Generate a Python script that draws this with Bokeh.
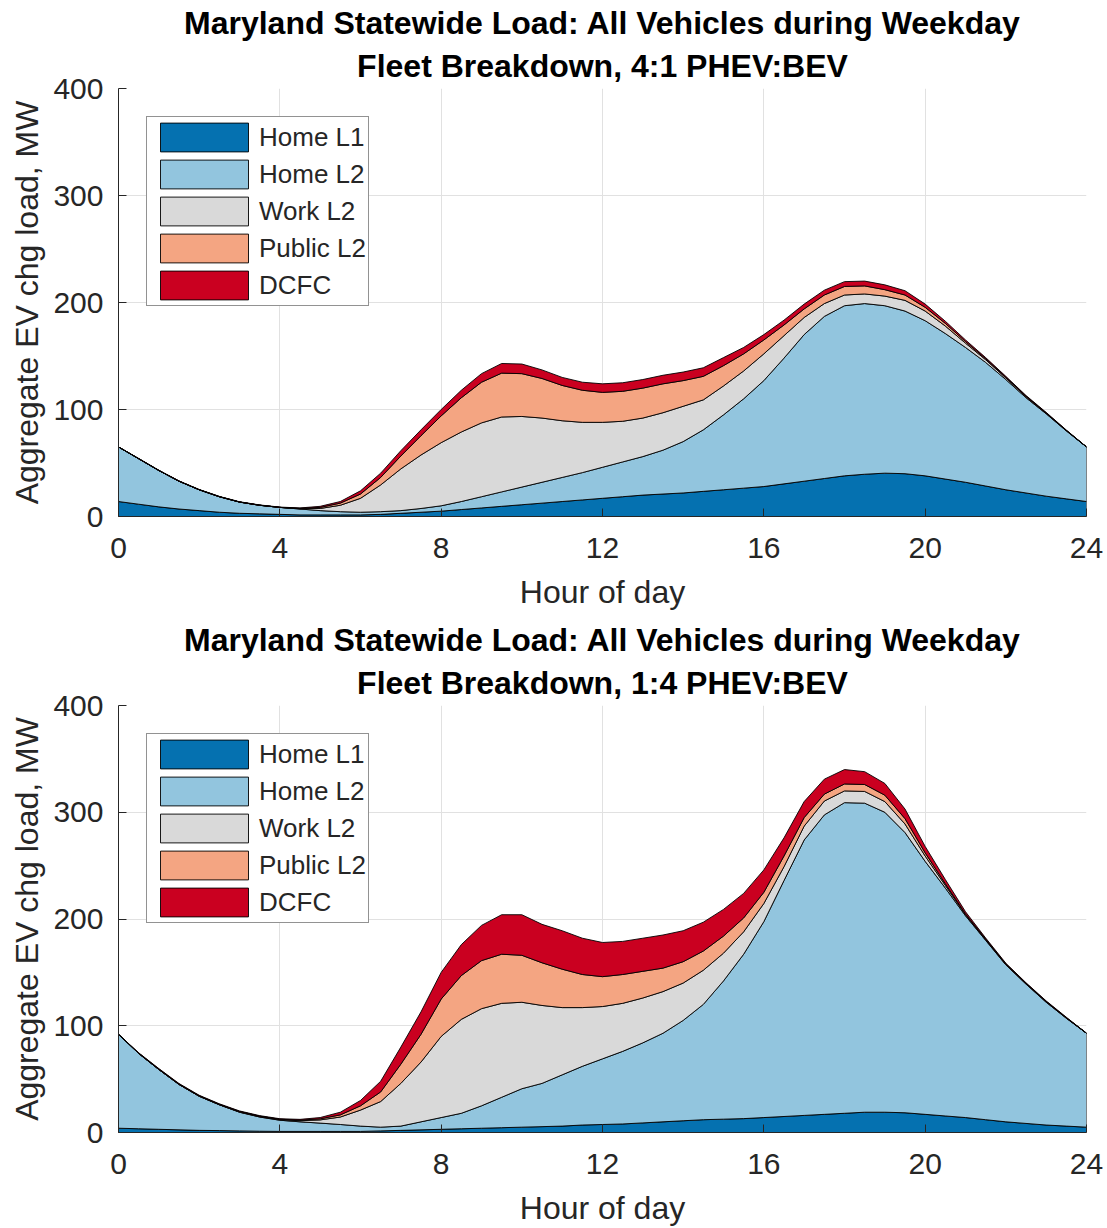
import numpy as np
from bokeh.plotting import figure
from bokeh.layouts import column
from bokeh.models import Title, Range1d, FixedTicker
from bokeh.embed import file_html
from bokeh.resources import INLINE

FONT = "Liberation Sans"
INK = "#262626"

# half-hourly samples over the day
hours = np.arange(0, 24.5, 0.5)
x_ticks = [0, 4, 8, 12, 16, 20, 24]
y_ticks = [0, 100, 200, 300, 400]

series_names = ["Home L1", "Home L2", "Work L2", "Public L2", "DCFC"]
series_colors = ["#0571b0", "#92c5de", "#d9d9d9", "#f4a582", "#ca0020"]

main_title = "Maryland Statewide Load: All Vehicles during Weekday"

# Fleet 4:1 PHEV:BEV, charging load (MW)
phev_home_l1 = [14, 11.5, 9, 7, 5.5, 4, 3, 2.5, 2, 1.5, 1.5, 1.5, 1.5, 2, 3, 4, 5,
                6.5, 8, 9.5, 11, 12.5, 14, 15.5, 17, 18.5, 20, 21, 22, 23.5, 25, 26.5,
                28, 30.5, 33, 35.5, 38, 39.5, 40.5, 40, 38, 35, 32, 28.5, 25, 22, 19, 16.5, 14]
phev_home_l2 = [51, 42.5, 34, 26, 19.5, 14.5, 10.5, 8, 6.5, 5.5, 4, 3, 2.5, 2.5, 2.5, 3.5, 5,
                7.5, 10.5, 13.5, 16.5, 19.5, 22.5, 25.5, 29, 32.5, 36, 41, 48, 57.5, 70, 83.5,
                99, 117.5, 137, 151.5, 159, 159.5, 156.5, 152, 145, 136, 126, 115.5, 103, 89, 77, 63.5, 51]
phev_work_l2 = [0, 0, 0, 0, 0, 0, 0, 0, 0, 0.3, 2, 6, 13, 25, 39, 50, 59,
                65, 69, 70, 66, 60, 53, 47, 42, 38, 36, 35, 33, 28, 27, 26,
                25, 21, 16, 12, 10, 9, 9, 10, 9, 7, 4, 2.5, 1.5, 1, 0.5, 0.3, 0]
phev_public_l2 = [0, 0, 0, 0, 0, 0, 0, 0, 0, 0.3, 1, 2, 4, 7, 12, 18, 25,
                  32, 38, 41, 40, 37, 33, 30, 28, 28, 28, 27, 24, 22, 19, 16,
                  13, 10, 8, 8, 8, 7.5, 6, 5, 3.5, 2.5, 1.5, 1, 0.7, 0.5, 0.3, 0.2, 0]
phev_dcfc = [0, 0.3, 0.3, 0.3, 0.3, 0.3, 0.3, 0.3, 0.3, 0.4, 1, 1.5, 3, 4, 5, 5.5, 6,
             7, 8, 9, 9, 8, 7.5, 7.5, 8, 8, 8, 8, 8, 8, 7.5, 6,
             5, 4.5, 4.5, 4.5, 4.5, 4.5, 4.5, 4, 3, 2, 1.5, 1, 0.8, 0.6, 0.5, 0.3, 0]

# Fleet 1:4 PHEV:BEV, charging load (MW)
bev_home_l1 = [4, 3.5, 3, 2.5, 2, 1.8, 1.5, 1.2, 1, 1, 1, 1, 1, 1.5, 2, 2.5, 3,
               3.5, 4, 4.5, 5, 5.5, 6, 7, 7.5, 8, 9, 10, 11, 12, 12.5, 13,
               14, 15, 16, 17, 18, 19, 19, 18.5, 17, 15.5, 14, 12, 10, 8.5, 7, 6, 5]
bev_home_l2 = [88, 70.5, 56, 42.5, 32, 24.2, 17.5, 13.3, 10.5, 9, 7.8, 6.5, 5, 3.5, 4, 7.5, 11,
               14.5, 21, 28.5, 36, 40.5, 48, 55, 61.5, 68, 75, 83, 94, 108, 129.5, 154,
               183.5, 221, 258, 280.5, 291, 289.5, 281, 262.5, 237, 213.5, 189, 168, 147, 130.5, 115, 101, 88]
bev_work_l2 = [0, 0, 0, 0, 0, 0, 0.3, 0.4, 0.5, 1, 3, 7, 15, 24, 40, 56, 76,
               88, 91, 88, 81, 73, 63, 55, 49, 45, 42, 39, 35, 32, 26, 21,
               17, 13, 13, 13, 11, 11, 10, 8, 5, 2.5, 1, 0.7, 0.5, 0.5, 0.5, 0.3, 0]
bev_public_l2 = [0, 0.4, 0.4, 0.4, 0.4, 0.4, 0.4, 0.4, 0.4, 0.6, 1, 2, 4, 9, 18, 26, 35,
                 41, 45, 46, 44, 40, 36, 31, 28, 27, 25, 22, 20, 18, 16, 13,
                 10.5, 10, 8, 6.5, 6.5, 6.5, 6, 5, 3, 1.5, 0.8, 0.5, 0.4, 0.3, 0.3, 0.2, 0]
bev_dcfc = [0, 0.3, 0.5, 0.5, 0.5, 0.5, 0.5, 0.5, 0.5, 0.7, 1.2, 2.5, 5, 10, 16, 21, 25,
            29, 33, 37, 38, 36, 36, 34, 32, 31, 31, 31, 29, 27, 25, 23,
            21, 17, 15, 14, 13.5, 12, 11, 9, 6, 4, 2, 1, 0.7, 0.5, 0.5, 0.5, 0]


def make_panel(subtitle, layers, height, bottom_border):
    p = figure(width=1107, height=height,
               x_range=Range1d(0, 24), y_range=Range1d(0, 400),
               output_backend="svg", toolbar_location=None,
               min_border_left=118, min_border_right=21,
               min_border_top=88, min_border_bottom=bottom_border,
               background_fill_color="white", border_fill_color="white")
    p.outline_line_color = None

    # two-line centred heading: the subtitle sits next to the frame
    p.add_layout(Title(text=subtitle, align="center", text_font=FONT,
                       text_font_size="32px", text_font_style="bold",
                       text_color="black", standoff=10), "above")
    p.add_layout(Title(text=main_title, align="center", text_font=FONT,
                       text_font_size="32px", text_font_style="bold",
                       text_color="black", standoff=0), "above")

    x = np.asarray(hours, dtype=float)
    lower = np.zeros_like(x)
    for name, color, vals in zip(series_names, series_colors, layers):
        upper = lower + np.array(vals, dtype=float)
        xs = np.concatenate([x, x[::-1]])
        ys = np.concatenate([upper, lower[::-1]])
        p.patch(xs, ys, fill_color=color, line_color="black",
                line_width=0.9, line_join="round", legend_label=name)
        lower = upper

    for ax in (p.xaxis, p.yaxis):
        ax.axis_line_color = INK
        ax.axis_line_width = 1
        ax.major_tick_line_color = INK
        ax.major_tick_in = 8
        ax.major_tick_out = 0
        ax.minor_tick_line_color = None
        ax.major_label_text_font = FONT
        ax.major_label_text_font_size = "30px"
        ax.major_label_text_color = INK
        ax.axis_label_text_font = FONT
        ax.axis_label_text_font_size = "32px"
        ax.axis_label_text_font_style = "normal"
        ax.axis_label_text_color = INK

    p.xaxis.ticker = FixedTicker(ticks=x_ticks)
    p.yaxis.ticker = FixedTicker(ticks=y_ticks)
    p.xaxis.axis_label = "Hour of day"
    p.yaxis.axis_label = "Aggregate EV chg load, MW"
    p.xaxis.major_label_standoff = 21
    p.yaxis.major_label_standoff = 15
    p.xaxis.axis_label_standoff = 13
    p.yaxis.axis_label_standoff = 5

    p.grid.grid_line_color = "#e1e1e1"
    p.grid.grid_line_width = 1
    p.xgrid.ticker = FixedTicker(ticks=x_ticks)
    p.ygrid.ticker = FixedTicker(ticks=y_ticks)

    lg = p.legend[0]
    lg.location = "top_left"
    lg.margin = 28
    lg.padding = 2
    lg.spacing = 1
    lg.glyph_width = 110
    lg.glyph_height = 36
    lg.label_height = 36
    lg.label_standoff = 0
    lg.label_text_font = FONT
    lg.label_text_font_size = "26px"
    lg.label_text_color = INK
    lg.border_line_color = INK
    lg.border_line_width = 1
    lg.background_fill_alpha = 1
    return p


top = make_panel("Fleet Breakdown, 4:1 PHEV:BEV",
                 [phev_home_l1, phev_home_l2, phev_work_l2, phev_public_l2, phev_dcfc],
                 617, 101)
bottom = make_panel("Fleet Breakdown, 1:4 PHEV:BEV",
                    [bev_home_l1, bev_home_l2, bev_work_l2, bev_public_l2, bev_dcfc],
                    611, 95)

page = column(top, bottom, spacing=0)
open("out.html", "w").write(file_html(page, INLINE))
